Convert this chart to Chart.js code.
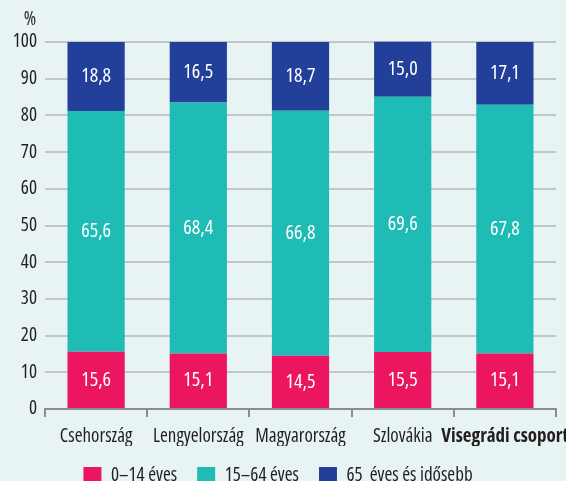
<!DOCTYPE html>
<html><head><meta charset="utf-8">
<script src="https://cdn.jsdelivr.net/npm/chart.js@4/dist/chart.umd.min.js"></script>
<style>
html,body{margin:0;padding:0;background:#e8f4f4;}
#wrap{width:566px;height:481px;position:relative;}
</style></head>
<body><div id="wrap"><canvas id="c" width="566" height="481"></canvas></div>
<script>
const categories = ['Csehország','Lengyelország','Magyarország','Szlovákia','Visegrádi csoport'];
const seriesNames = ['0–14 éves','15–64 éves','65  éves és idősebb'];
const young = [15.6, 15.1, 14.5, 15.5, 15.1];
const working = [65.6, 68.4, 66.8, 69.6, 67.8];
const old = [18.8, 16.5, 18.7, 15.0, 17.1];
const yTicks = [0,10,20,30,40,50,60,70,80,90,100];
const unitLabel = '%';

const FONT = "'Open Sans', sans-serif";
const REG = 'condensed 400';
const BOLD = 'condensed 700';
const colors = ['#ec1560','#1ebcb4','#22409a'];
const textColor = '#231f20';

const labelPlugin = {
  id: 'valueLabels',
  afterDatasetsDraw(chart){
    const ctx = chart.ctx;
    ctx.save();
    ctx.fillStyle = '#ffffff';
    ctx.font = REG + ' 20px ' + FONT;
    ctx.textAlign = 'center';
    ctx.textBaseline = 'middle';
    chart.data.datasets.forEach((ds, i) => {
      const meta = chart.getDatasetMeta(i);
      meta.data.forEach((el, j) => {
        const v = ds.data[j];
        ctx.fillText(v.toFixed(1).replace('.', ','), el.x, (el.y + el.base) / 2);
      });
    });
    const ys = chart.scales.y;
    ctx.fillStyle = textColor;
    ctx.font = REG + ' 19px ' + FONT;
    ctx.textAlign = 'center';
    ctx.textBaseline = 'middle';
    ctx.fillText(unitLabel, ys.right - 15, ys.top - 22);
    ctx.restore();
  }
};

new Chart(document.getElementById('c'), {
  type: 'bar',
  data: {
    labels: categories,
    datasets: [
      {label: seriesNames[0], data: young, backgroundColor: colors[0]},
      {label: seriesNames[1], data: working, backgroundColor: colors[1]},
      {label: seriesNames[2], data: old, backgroundColor: colors[2]}
    ].map(d => Object.assign(d, {barPercentage: 0.56, categoryPercentage: 1, borderWidth: 0, clip: false}))
  },
  options: {
    responsive: false,
    animation: false,
    layout: {padding: {top: 42, right: 10, left: 0, bottom: -14}},
    plugins: {
      legend: {
        position: 'bottom',
        labels: {
          boxWidth: 18, boxHeight: 17, padding: 20,
          color: textColor,
          font: {family: FONT, size: 19, weight: REG}
        }
      },
      tooltip: {enabled: false}
    },
    scales: {
      x: {
        stacked: true,
        offset: true,
        afterFit(scale){ scale.height = 37; scale.paddingRight = 0; scale.paddingLeft = 0; },
        grid: {display: true, drawOnChartArea: false, drawTicks: true, tickLength: 8, offset: true, color: '#8c8c8c', lineWidth: 2},
        border: {display: true, color: '#8c8c8c', width: 2},
        ticks: {
          color: textColor, padding: 8, maxRotation: 0, autoSkip: false,
          font: ctx => ({family: FONT, size: 19, weight: ctx.index === 4 ? BOLD : REG})
        }
      },
      y: {
        stacked: true,
        min: 0, max: 100,
        afterFit(scale){ scale.width = 45; },
        afterBuildTicks(scale){ scale.ticks = yTicks.map(v => ({value: v})); },
        grid: {color: '#c3c6c8', lineWidth: 2, drawTicks: false},
        border: {display: false},
        ticks: {color: textColor, padding: 8, font: {family: FONT, size: 19, weight: REG}}
      }
    }
  },
  plugins: [labelPlugin]
});
</script></body></html>
